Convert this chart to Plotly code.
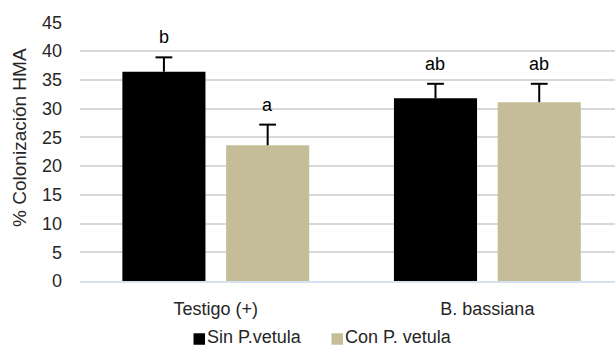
import plotly.graph_objects as go

# Treatments and group means (% HMA colonisation) with their standard errors
tratamientos = ["Testigo (+)", "B. bassiana"]
sin_vetula = [36.4, 31.8]
sin_vetula_err = [2.5, 2.5]
con_vetula = [23.6, 31.1]
con_vetula_err = [3.6, 3.2]
letras_sin = ["b", "ab"]
letras_con = ["a", "ab"]

FONT = "Liberation Sans, Arial, sans-serif"
TXT = "#262626"
BAR_W = 0.306
pos = list(range(len(tratamientos)))

# plot-area geometry in pixels, used to place the key below the axis
W, H = 615, 347
L, R, T, B = 80, 0, 21.5, 66.3
PW, PH = W - L - R, H - T - B


def px_x(x):
    return (x - L) / PW


def px_y(y):
    return (H - B - y) / PH


fig = go.Figure()

series = [
    ("Sin P.vetula", sin_vetula, sin_vetula_err, letras_sin, "#000000", -0.344),
    ("Con P. vetula", con_vetula, con_vetula_err, letras_con, "#C4BD97", 0.038),
]

for name, vals, errs, letras, color, off in series:
    centre = [p + off + BAR_W / 2 for p in pos]
    fig.add_trace(go.Bar(
        name=name, x=pos, y=vals, width=BAR_W, offset=off,
        marker=dict(color=color, line=dict(width=0)),
        # upper error only; the cap is drawn by the marker trace below
        error_y=dict(type="data", symmetric=False, array=errs,
                     arrayminus=[0] * len(errs),
                     color="#000000", thickness=2, width=0),
    ))
    tops = [v + e for v, e in zip(vals, errs)]
    fig.add_trace(go.Scatter(
        x=centre, y=tops, mode="markers", hoverinfo="skip",
        marker=dict(symbol="line-ew", size=12,
                    line=dict(color="#000000", width=2)),
    ))
    # significance letters above each error bar
    for xc, yt, lt in zip(centre, tops, letras):
        fig.add_annotation(
            x=xc, y=yt, text=lt, showarrow=False, yanchor="bottom", yshift=8,
            font=dict(family=FONT, size=18, color="#000000"),
        )

# key: coloured square followed by the series name
for (name, _, _, _, color, _), sq_left in zip(series, (193.5, 331.5)):
    fig.add_shape(
        type="rect", xref="paper", yref="paper",
        x0=px_x(sq_left), x1=px_x(sq_left + 11.5),
        y0=px_y(344.5), y1=px_y(333), fillcolor=color, line=dict(width=0),
    )
    fig.add_annotation(
        text=name, showarrow=False, xref="paper", yref="paper",
        x=px_x(sq_left + 12.5), y=px_y(336.5), xanchor="left", yanchor="middle",
        borderpad=0,
        font=dict(family=FONT, size=18, color=TXT),
    )

# y-axis title placed as rotated text beside the tick labels
fig.add_annotation(
    text="% Colonización HMA", textangle=-90, showarrow=False,
    xref="paper", yref="paper", x=px_x(20), y=px_y(137.5),
    xanchor="center", yanchor="middle",
    font=dict(family=FONT, size=19, color=TXT),
)

fig.update_layout(
    width=W, height=H,
    margin=dict(l=L, r=R, t=T, b=B),
    paper_bgcolor="white", plot_bgcolor="white",
    font=dict(family=FONT, size=18, color=TXT),
    barmode="overlay",
    showlegend=False,
    xaxis=dict(range=[-0.5, 1.47], tickmode="array", tickvals=pos,
               ticktext=tratamientos, showgrid=False, zeroline=False,
               showline=True, linecolor="#D6E2F2", linewidth=1.5,
               ticks="", ticklabelstandoff=11,
               tickfont=dict(family=FONT, size=18, color=TXT)),
    yaxis=dict(range=[0, 45.05], dtick=5, tick0=0,
               showgrid=True, gridcolor="#D9D9D9", gridwidth=1.5,
               zeroline=False, showline=False, ticks="",
               ticklabelstandoff=17,
               tickfont=dict(family=FONT, size=18, color=TXT)),
)

fig.write_html("out.html")
